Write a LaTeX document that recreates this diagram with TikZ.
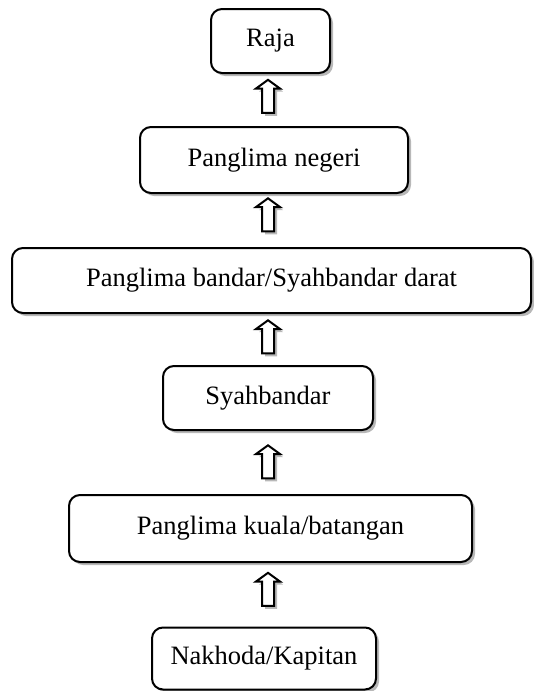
\documentclass[tikz,border=0pt]{standalone}
\usepackage{fontspec}
\setmainfont{Liberation Serif}
\usetikzlibrary{shadows,shapes.arrows}
\begin{document}
\begin{tikzpicture}[x=1pt,y=-1pt,
  box/.style={draw, line width=2pt, rounded corners=11pt, fill=white, inner sep=0pt,
    font=\fontsize{26.5}{31}\selectfont,
    drop shadow={shadow xshift=3pt, shadow yshift=-3pt, fill=black!28, opacity=1}},
  uparrow/.style={shape=single arrow, rotate=90, draw, line width=2pt, fill=white,
    inner sep=5pt, single arrow head extend=6pt, minimum height=33pt,
    single arrow tip angle=108,
    drop shadow={shadow xshift=3pt, shadow yshift=-3pt, fill=black!28, opacity=1}}]
\useasboundingbox (0,0) rectangle (533,691);
\node[box, minimum width=119pt, minimum height=64pt] (raja) at (270.5,41) {Raja};
\node[box, minimum width=268pt, minimum height=66pt] (negeri) at (274,160) {Panglima negeri};
\node[box, minimum width=519pt, minimum height=65pt] (bandar) at (271.5,280.5) {Panglima bandar/Syahbandar darat};
\node[box, minimum width=210pt, minimum height=64pt] (syah) at (268,398) {Syahbandar};
\node[box, minimum width=403pt, minimum height=67pt] (kuala) at (270.5,528.5) {Panglima kuala/batangan};
\node[box, minimum width=224pt, minimum height=62pt] (nakhoda) at (264,658.5) {Nakhoda/Kapitan};
\node[uparrow] (a1) at (268,98.5) {};
\node[uparrow] (a2) at (268,217) {};
\node[uparrow] (a3) at (268,339) {};
\node[uparrow] (a4) at (268,464) {};
\node[uparrow] (a5) at (268,591.5) {};
\end{tikzpicture}
\end{document}
